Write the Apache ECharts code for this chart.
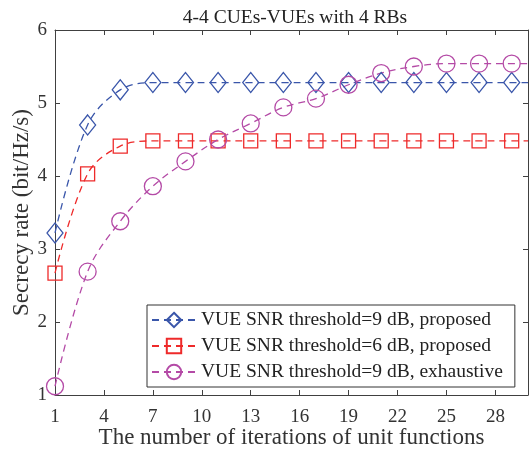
<!DOCTYPE html>
<html><head><meta charset="utf-8">
<script src="https://cdn.jsdelivr.net/npm/echarts@6/dist/echarts.min.js"></script>
<style>html,body{margin:0;padding:0;background:#fff}#c{width:529px;height:457px}</style>
</head><body><div id="c"></div>
<script>
const iterations = [1,3,5,7,9,11,13,15,17,19,21,23,25,27,29,30];
const proposed9dB = [3.22,4.70,5.18,5.28,5.28,5.28,5.28,5.28,5.28,5.28,5.28,5.28,5.28,5.28,5.28,5.28];
const proposed6dB = [2.67,4.03,4.41,4.48,4.48,4.48,4.48,4.48,4.48,4.48,4.48,4.48,4.48,4.48,4.48,4.48];
const exhaustive9dB = [1.12,2.69,3.38,3.86,4.20,4.50,4.72,4.94,5.06,5.25,5.41,5.50,5.54,5.54,5.54,5.54];
const seriesNames = ['VUE SNR threshold=9 dB, proposed','VUE SNR threshold=6 dB, proposed','VUE SNR threshold=9 dB, exhaustive'];
const xTicks = [1,4,7,10,13,16,19,22,25,28];

const font = 'Liberation Serif';
const axisCol = '#404040';
function pairs(ys){
  return iterations.map((x,i)=> x%2===1 ? [x,ys[i]] : {value:[x,ys[i]], symbol:'none'});
}
function mk(name, ys, color, symbol, size){
  return {
    name, type:'line', data:pairs(ys), smooth:0.35,
    symbol, symbolSize:size, showAllSymbol:true,
    lineStyle:{color, width:1.3, type:[7,5]},
    itemStyle:{color:'rgba(0,0,0,0)', borderColor:color, borderWidth:1.3},
    emphasis:{disabled:true}
  };
}
const chart = echarts.init(document.getElementById('c'), null, {renderer:'canvas'});
chart.setOption({
  animation:false,
  title:{text:'4-4 CUEs-VUEs with 4 RBs', left:290, top:3, textAlign:'center',
    textStyle:{fontFamily:font, fontSize:19.5, fontWeight:'normal', color:'#222'}},
  grid:{left:55, right:1, top:30, bottom:62, outerBoundsMode:'none', containLabel:false},
  legend:{left:147, top:305, orient:'vertical', itemWidth:44, itemHeight:18, itemGap:6,
    padding:[5,12,5,4], borderColor:'#333', borderWidth:1, backgroundColor:'#fff',
    textStyle:{fontFamily:font, fontSize:19.5, color:'#222'},
    data:seriesNames},
  xAxis:[{type:'value', min:1, max:30, interval:3,
    name:'The number of iterations of unit functions', nameLocation:'middle', nameGap:31, nameMoveOverlap:false,
    nameTextStyle:{fontFamily:font, fontSize:23, color:'#333'},
    axisLine:{lineStyle:{color:axisCol}}, axisTick:{inside:true, length:5, lineStyle:{color:axisCol}},
    axisLabel:{fontFamily:font, fontSize:19, color:'#333', margin:13, showMaxLabel:false,
      formatter:(v)=> xTicks.includes(v) ? String(v) : ''},
    splitLine:{show:false}},
   {type:'value', position:'top', min:1, max:30, interval:3,
    axisLine:{lineStyle:{color:axisCol}}, axisTick:{inside:true, length:5, lineStyle:{color:axisCol}},
    axisLabel:{show:false}, splitLine:{show:false}}],
  yAxis:[{type:'value', min:1, max:6, interval:1,
    name:'Secrecy rate (bit/Hz/s)', nameLocation:'middle', nameGap:22, nameMoveOverlap:false,
    nameTextStyle:{fontFamily:font, fontSize:23, color:'#333'},
    axisLine:{show:true, lineStyle:{color:axisCol}}, axisTick:{show:true, inside:true, length:5, lineStyle:{color:axisCol}},
    axisLabel:{fontFamily:font, fontSize:19, color:'#333', margin:8},
    splitLine:{show:false}},
   {type:'value', position:'right', min:1, max:6, interval:1,
    axisLine:{show:true, lineStyle:{color:axisCol}}, axisTick:{show:true, inside:true, length:5, lineStyle:{color:axisCol}},
    axisLabel:{show:false}, splitLine:{show:false}}],
  series:[
    mk(seriesNames[0], proposed9dB, '#3a56aa', 'diamond', [16,20]),
    mk(seriesNames[1], proposed6dB, '#ee2a2a', 'rect', [14,14]),
    mk(seriesNames[2], exhaustive9dB, '#b44aa6', 'circle', [17,17])
  ]
});
</script></body></html>
